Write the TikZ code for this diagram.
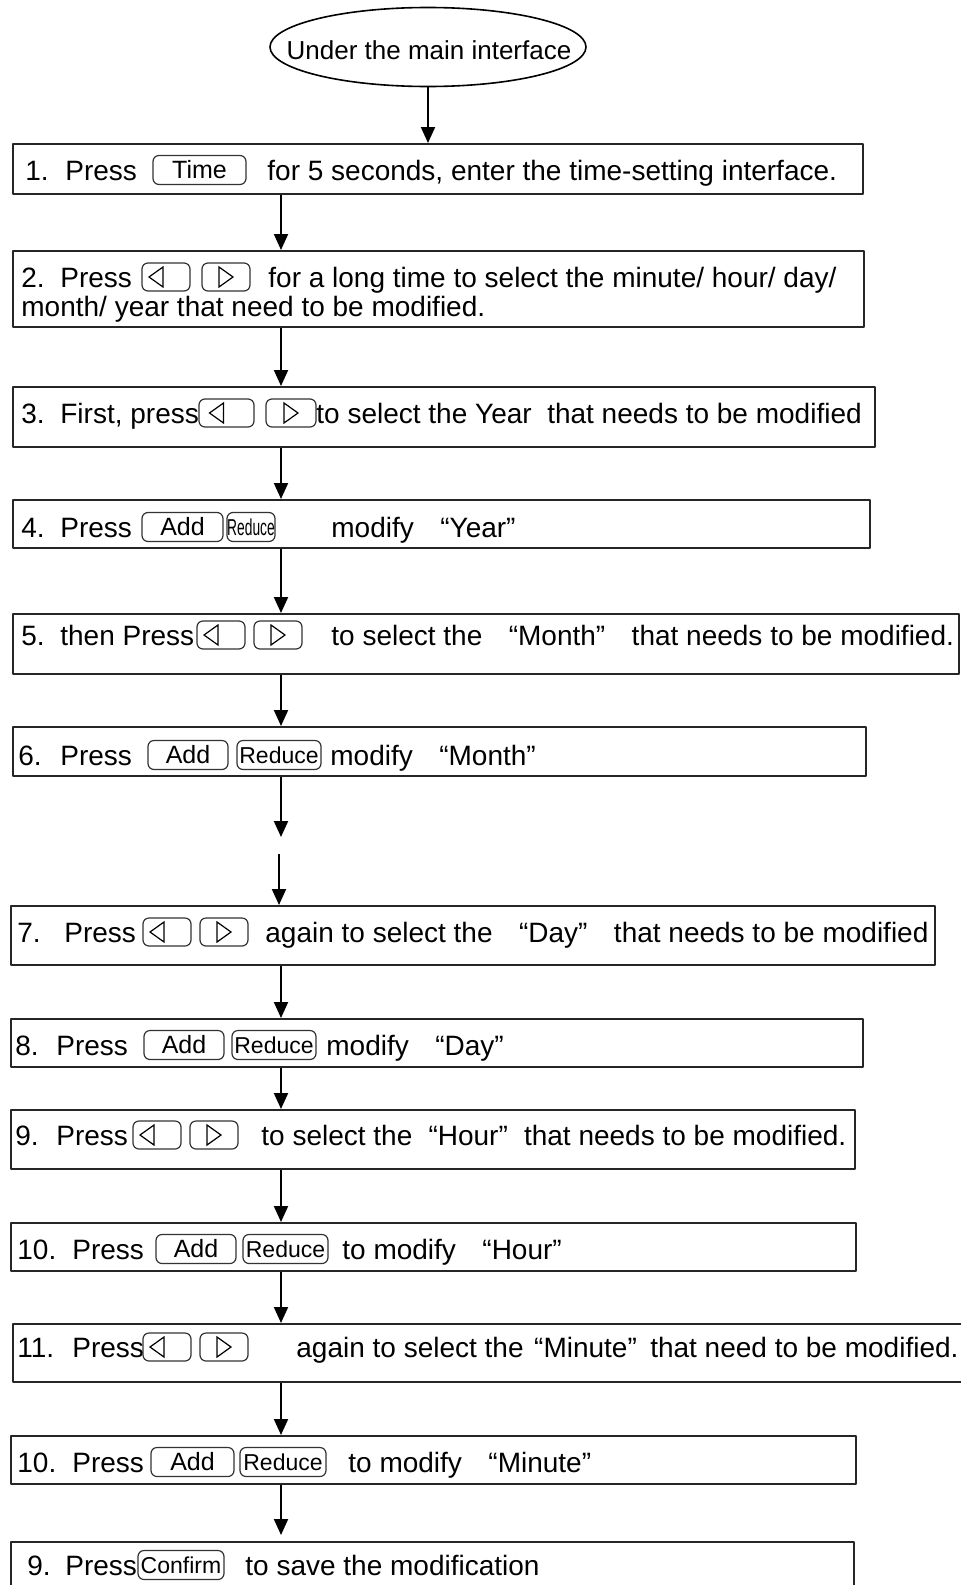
\documentclass[tikz,border=0pt]{standalone}
\usepackage{fontspec}
\setmainfont{Liberation Sans}
\usetikzlibrary{arrows.meta, shapes.geometric}

% fixed-width piece of a line, width given in px
\newcommand{\seg}[2]{\makebox[\dimexpr #1pt/2\relax][l]{#2}}
% full-width quotes
\newcommand{\oq}[1][0.667em]{\hspace{#1}“}
\newcommand{\cq}[1][0.667em]{”\hspace{#1}}
% keys on the panel
\newcommand{\keycap}[3][12.5]{\tikz[baseline=-5pt] \node[keybtn=#2, font=\fontsize{#1}{#1}\selectfont] (k) {#3};}
\newcommand{\leftkey}[1][48]{\tikz[baseline=-5pt]{\node[keybtn=#1, minimum height=14pt] (k) {};
  \draw[keytri] (-1.5pt,5pt) -- (-8.5pt,0pt) -- (-1.5pt,-5pt) -- cycle;}}
\newcommand{\rightkey}[1][48]{\tikz[baseline=-5pt]{\node[keybtn=#1, minimum height=14pt] (k) {};
  \draw[keytri] (-3.5pt,5pt) -- (3.5pt,0pt) -- (-3.5pt,-5pt) -- cycle;}}

\begin{document}
\begin{tikzpicture}[
  x=0.5pt, y=-0.5pt, line join=round,
  stepbox/.style 2 args={draw=black!85, line width=1pt, anchor=north west, inner sep=0pt,
    minimum width=#1*0.5pt, minimum height=#2*0.5pt},
  txt/.style={anchor=base west, inner sep=0pt, align=left, font=\fontsize{14}{14.5}\selectfont},
  flow/.style={line width=1pt, -{Triangle[length=8pt, width=7pt]}},
  keybtn/.style={draw=black!80, line width=0.6pt, rounded corners=3pt, anchor=center,
    inner sep=0pt, align=center, minimum width=#1*0.5pt, minimum height=14.5pt},
  keytri/.style={line width=0.6pt, line join=miter},
  startnode/.style={ellipse, draw, line width=0.8pt, inner sep=0pt, minimum width=158pt,
    minimum height=39.5pt}
]
  \useasboundingbox (0,0) rectangle (961,1585);
  \coordinate (spine) at (281,0);

  % start
  \node[startnode] (start) at (428,47) {};
  \node[font=\fontsize{13}{13}\selectfont, inner sep=0pt] (starttext) at (429,50) {Under the main interface};

  % step boxes
  \node[stepbox={850}{50}] (s1) at (12,143) {};
  \node[stepbox={851}{76}] (s2) at (12,250) {};
  \node[stepbox={862}{60}] (s3) at (12,386) {};
  \node[stepbox={857}{48}] (s4) at (12,499) {};
  \node[stepbox={946}{60}] (s5) at (12,613) {};
  \node[stepbox={853}{49}] (s6) at (12,726) {};
  \node[stepbox={924}{59}] (s7) at (10,905) {};
  \node[stepbox={852}{48}] (s8) at (10,1018) {};
  \node[stepbox={844}{59}] (s9) at (10,1109) {};
  \node[stepbox={845}{48}] (s10) at (10,1222) {};
  \node[stepbox={953}{58}] (s11) at (12,1323) {};
  \node[stepbox={845}{48}] (s12) at (10,1435) {};
  \node[stepbox={843}{60}] (s13) at (10,1541) {};

  % texts
  \node[txt] (t1) at (25,180) {\seg{40}{1.}\seg{87}{Press}\seg{115}{\keycap{93}{Time}}for 5 seconds, enter the time-setting interface.};
  \node[txt] (t2) at (21,316) {\seg{39}{2.}\seg{81}{Press}\seg{60}{\leftkey}\seg{67}{\rightkey}for a long time to select the minute/ hour/ day/\\month/ year that need to be modified.};
  \node[txt] (t3) at (21,423) {\seg{39}{3.}\seg{138}{First, press}\seg{67}{\leftkey[55]}\seg{51}{\rightkey[50]}to select the Year\ \ that needs to be modified};
  \node[txt] (t4) at (21,537) {\seg{39}{4.}\seg{81}{Press}\seg{85}{\keycap{81}{Add}}\seg{105}{\keycap[11.5]{48}{\scalebox{0.6}[1]{Reduce}}}modify \oq Year\cq};
  \node[txt] (t5) at (21,645) {\seg{39}{5.}\seg{136}{then Press}\seg{57}{\leftkey}\seg{78}{\rightkey}to select the \oq Month\cq{} that needs to be modified.};
  \node[txt] (t6) at (18,765) {\seg{42}{6.}\seg{87}{Press}\seg{89}{\keycap{80}{Add}}\seg{94}{\keycap[11.5]{84}{Reduce}}modify \oq Month\cq};
  \node[txt] (t7) at (17,942) {\seg{47}{7.}\seg{78}{Press}\seg{57}{\leftkey}\seg{66}{\rightkey}again to select the \oq Day\cq{} that needs to be modified};
  \node[txt] (t8) at (15,1055) {\seg{41}{8.}\seg{87}{Press}\seg{88}{\keycap{80}{Add}}\seg{95}{\keycap[11.5]{84}{Reduce}}modify \oq Day\cq};
  \node[txt] (t9) at (15,1145) {\seg{41}{9.}\seg{76}{Press}\seg{57}{\leftkey}\seg{72}{\rightkey}to select the \oq[0.3em]Hour\cq[0.3em]{} that needs to be modified.};
  \node[txt] (t10) at (17,1259) {\seg{55}{10.}\seg{83}{Press}\seg{87}{\keycap{80}{Add}}\seg{100}{\keycap[11.5]{85}{Reduce}}to modify \oq Hour\cq};
  \node[txt] (t11) at (17,1357) {\seg{55}{11.}\seg{70}{Press}\seg{57}{\leftkey}\seg{97}{\rightkey}again to select the \oq[0.1em]Minute\cq[0.2em]{} that need to be modified.};
  \node[txt] (t12) at (17,1472) {\seg{55}{10.}\seg{78}{Press}\seg{89}{\keycap{83}{Add}}\seg{109}{\keycap[11.5]{86}{Reduce}}to modify \oq Minute\cq};
  \node[txt] (t13) at (27,1575) {\seg{38}{9.}\seg{72}{Press}\seg{108}{\keycap[11.5]{86}{Confirm}}to save the modification};

  % connectors
  \draw[flow] (start.south) -- (start.south |- s1.north);
  \draw[flow] (s1.south -| spine) -- (s2.north -| spine);
  \draw[flow] (s2.south -| spine) -- (s3.north -| spine);
  \draw[flow] (s3.south -| spine) -- (s4.north -| spine);
  \draw[flow] (s4.south -| spine) -- (s5.north -| spine);
  \draw[flow] (s5.south -| spine) -- (s6.north -| spine);
  \coordinate (gapend) at (281,837);
  \coordinate (gapstart) at (279,854);
  \draw[flow] (s6.south -| spine) -- (gapend);
  \draw[flow] (gapstart) -- (s7.north -| gapstart);
  \draw[flow] (s7.south -| spine) -- (s8.north -| spine);
  \draw[flow] (s8.south -| spine) -- (s9.north -| spine);
  \draw[flow] (s9.south -| spine) -- (s10.north -| spine);
  \draw[flow] (s10.south -| spine) -- (s11.north -| spine);
  \draw[flow] (s11.south -| spine) -- (s12.north -| spine);
  \draw[flow] (s12.south -| spine) -- ([yshift=3pt]s13.north -| spine);
\end{tikzpicture}
\end{document}
